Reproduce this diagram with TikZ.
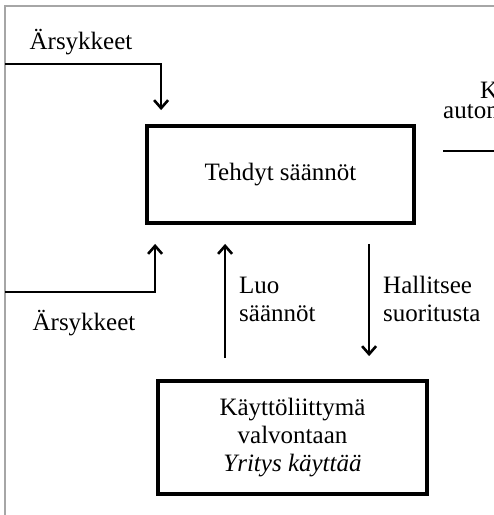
\documentclass[tikz,border=0pt]{standalone}
\usepackage{fontspec}
\setmainfont{Liberation Serif}
\usetikzlibrary{arrows.meta}
\begin{document}
\begin{tikzpicture}[x=1pt,y=-1pt,
  txt/.style={font=\fontsize{25}{28}\selectfont, inner sep=0pt},
  box/.style={draw, line width=3.8pt, txt, align=center},
  arr/.style={line width=2.3pt, -{Straight Barb[length=8pt,width=14pt,line width=2.6pt]}},
  frame/.style={draw=gray!70, line width=1.6pt}]
\useasboundingbox (0,0) rectangle (494,515);
% outer frame
\coordinate (f1) at (5,515);
\coordinate (f2) at (5,6);
\coordinate (f3) at (494,6);
\draw[frame] (f1) -- (f2) -- (f3);

% boxes
\node[box, minimum width=267pt, minimum height=97pt] (rules) at (280.5,174.5) {Tehdyt säännöt};
\node[box, minimum width=269pt, minimum height=113pt] (ui) at (292.5,437.5)
  {Käyttöliittymä\\valvontaan\\\textit{Yritys käyttää}};

% stimulus inputs
\node[txt] (s1) at (81,42) {Ärsykkeet};
\node[txt] (s2) at (84,323) {Ärsykkeet};
\coordinate (in1) at (5,64);
\coordinate (in2) at (5,292);
\draw[arr] (in1) -| ([xshift=16pt,yshift=14pt]rules.north west);
\draw[arr] (in2) -| ([xshift=10pt,yshift=-19pt]rules.south west);

% rule creation and control
\draw[arr] ([xshift=69pt,yshift=21pt]ui.north west) -- ([xshift=80pt,yshift=-19pt]rules.south west);
\draw[arr] ([xshift=224pt,yshift=-19pt]rules.south west) -- ([xshift=213pt,yshift=23pt]ui.north west);
\node[txt, anchor=west, align=left] (luo) at (239,299) {Luo\\säännöt};
\node[txt, anchor=west, align=left] (hal) at (383,299) {Hallitsee\\suoritusta};

% right-hand part
\node[txt, anchor=base west] (k) at (480,98) {K};
\node[txt, anchor=base west] (au) at (443,118) {autom};
\coordinate (r1) at (443,151);
\coordinate (r2) at (500,151);
\draw[line width=2.3pt] (r1) -- (r2);
\end{tikzpicture}
\end{document}
